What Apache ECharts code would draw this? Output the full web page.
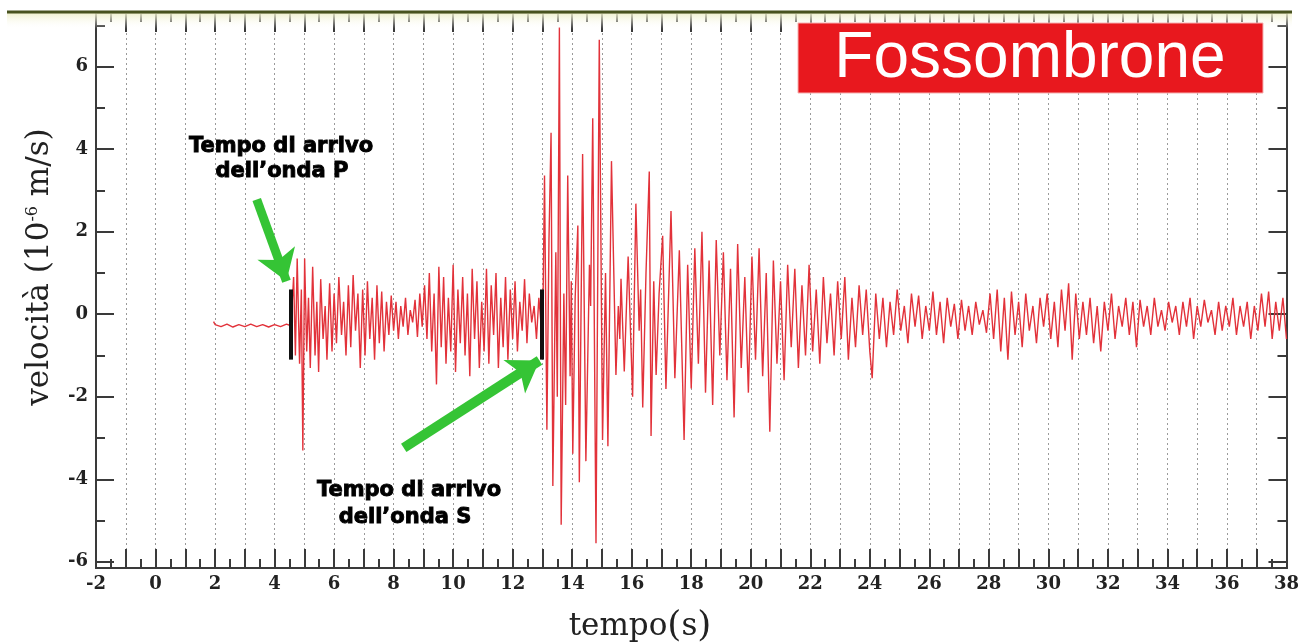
<!DOCTYPE html>
<html><head><meta charset="utf-8">
<script src="https://cdn.jsdelivr.net/npm/echarts@6/dist/echarts.min.js"></script>
<style>html,body{margin:0;padding:0;background:#fff}#c{width:1302px;height:644px}</style>
</head><body><div id="c"></div>
<script>
// ---- axis ticks / labels ----
const yTickLabels = [-6, -4, -2, 0, 2, 4, 6];
const yMinorTicks = [-5, -3, -1, 1, 3, 5, 7];
const xMin = -2, xMax = 38, yMin = -6.15, yMax = 7.3;

// ---- seismogram (time s, velocity 1e-6 m/s) ----
const preEvent = [[1.95,-0.18],[2.0,-0.25],[2.2,-0.3],[2.4,-0.24],[2.6,-0.31],[2.8,-0.25],[3.0,-0.3],[3.2,-0.24],[3.4,-0.3],[3.6,-0.25],[3.8,-0.31],[4.0,-0.25],[4.2,-0.3],[4.4,-0.24],[4.55,-0.28]];
const pWave = [[4.58,-0.3],[4.64,0.9],[4.70,-1.0],[4.76,1.35],[4.84,-1.2],[4.90,0.6],[4.95,-3.3],[5.01,1.35],[5.08,-0.9],[5.14,0.4],[5.20,-1.3],[5.28,1.15],[5.36,-1.0],[5.42,0.3],[5.48,-1.4],[5.55,0.85],[5.63,-0.6],[5.70,0.2],[5.76,-1.1],[5.85,0.75],[5.93,-0.9],[6.0,0.5],
[6.08,-0.7],[6.16,0.9],[6.25,-0.5],[6.32,0.3],[6.40,-1.0],[6.48,0.7],[6.56,-0.8],[6.64,0.95],[6.72,-0.4],[6.80,0.5],[6.88,-1.3],[6.96,0.6],[7.04,-1.0],[7.12,0.8],[7.20,-0.6],[7.28,0.4],[7.36,-1.1],[7.44,0.7],[7.52,-0.7],[7.60,0.55],[7.68,-0.9],[7.76,0.3],[7.84,-0.5],[7.92,0.45],
[8.00,-0.4],[8.08,0.3],[8.16,-0.6],[8.24,0.2],[8.32,-0.3],[8.40,0.4],[8.48,-0.5],[8.56,0.1],[8.64,-0.2],[8.72,0.35],[8.80,-0.55],[8.88,0.5],[8.96,-0.3],
[9.04,0.7],[9.12,-0.6],[9.20,1.0],[9.28,-0.9],[9.36,0.5],[9.44,-1.7],[9.52,1.15],[9.60,-0.8],[9.68,0.9],[9.76,-1.2],[9.84,0.4],[9.92,-0.9],[10.00,1.2],[10.08,-1.4],[10.16,0.6],[10.24,-0.7],[10.32,0.9],[10.40,-1.0],[10.48,0.5],[10.56,-1.5],[10.64,1.1],[10.72,-0.6],[10.80,0.8],[10.88,-1.3],[10.96,0.3],[11.04,-0.9],[11.12,1.1],[11.20,-1.2],[11.28,0.7],[11.36,-0.5],[11.44,1.0],[11.52,-1.3],[11.60,0.4],[11.68,-0.8],[11.76,0.9],[11.84,-1.1],[11.92,0.6],[12.00,-0.6],[12.08,0.8],[12.16,-0.9],[12.24,0.3],[12.32,-0.4],[12.40,0.85],[12.48,-0.7],[12.56,0.5],[12.64,-0.2],[12.72,0.2],[12.80,-0.6],[12.88,0.4],[12.96,-0.3]];
const sWave = [[13.00,-1.0],[13.07,3.36],[13.15,-2.8],[13.22,1.8],[13.29,4.4],[13.35,-4.16],[13.45,1.5],[13.50,-2.0],[13.57,6.95],[13.63,-5.1],[13.72,0.5],[13.78,-2.2],[13.85,3.36],[13.93,-1.5],[13.97,0.8],[14.02,-3.38],[14.10,0.4],[14.19,2.15],[14.24,-4.07],[14.35,3.88],[14.46,-3.56],[14.58,1.2],[14.62,0.2],[14.69,4.75],[14.80,-5.55],[14.91,6.65],[15.02,-3.05],[15.12,1.0],[15.20,-3.2],[15.32,3.71],[15.47,-1.47],[15.55,0.2],[15.60,-0.6],[15.64,0.86],[15.75,-1.39],[15.88,1.4],[16.03,-2.0],[16.14,2.68],[16.25,-0.4],[16.30,0.6],[16.37,-2.26],[16.48,1.0],[16.59,3.46],[16.65,-2.95],[16.74,0.8],[16.82,-1.47],[16.92,0.5],[17.04,1.9],[17.15,-1.81],[17.32,2.5],[17.45,-1.55],[17.60,1.55],[17.76,-3.05]];
const coda = [[17.88,1.2],[18.00,-1.8],[18.12,1.6],[18.24,-1.2],[18.36,2.0],[18.48,-1.9],[18.60,1.3],[18.72,-2.2],[18.84,1.8],[18.96,-1.0],[19.08,1.5],[19.20,-1.6],[19.32,1.1],[19.44,-2.5],[19.56,1.7],[19.68,-1.3],[19.80,0.9],[19.92,-1.9],[20.04,1.4],[20.16,-1.1],[20.28,1.6],[20.40,-1.5],[20.52,1.0],[20.64,-2.85],[20.76,1.3],[20.88,-1.2],[21.00,0.8],[21.12,-1.6],[21.24,1.2],[21.36,-0.8],[21.48,1.1],[21.60,-1.3],[21.72,0.7],[21.84,-1.0],[21.96,1.2],[22.08,-0.9],[22.20,0.6],[22.32,-1.2],[22.44,0.9],[22.56,-0.7],[22.68,0.5],[22.80,-1.0],[22.92,0.8],[23.04,-0.6],[23.16,0.9],[23.28,-1.1],[23.40,0.4],[23.52,-0.8],[23.64,0.7],[23.76,-0.5],[23.88,0.6],[24.00,-0.9],[24.08,-1.55],
[24.20,0.5],[24.32,-0.6],[24.44,0.4],[24.56,-0.8],[24.68,0.3],[24.80,-0.5],[24.92,0.6],[25.04,-0.4],[25.16,0.2],[25.28,-0.7],[25.40,0.5],[25.52,-0.3],[25.64,0.45],[25.76,-0.6],[25.88,0.2],[26.00,-0.4],[26.12,0.55],[26.24,-0.5],[26.36,0.3],[26.48,-0.7],[26.60,0.4],[26.72,-0.3],[26.84,0.25],[26.96,-0.6],[27.08,0.35],[27.20,-0.4],[27.32,0.2],[27.44,-0.5],[27.56,0.3],[27.68,-0.25],[27.80,0.1],[27.92,-0.45],
[28.04,0.5],[28.16,-0.6],[28.28,0.6],[28.40,-0.9],[28.52,0.4],[28.64,-1.1],[28.76,0.55],[28.88,-0.5],[29.00,0.3],[29.12,-0.8],[29.24,0.5],[29.36,-0.4],[29.48,0.2],[29.60,-0.7],[29.72,0.4],[29.84,-0.3],[29.96,0.5],[30.08,-0.6],[30.20,0.3],[30.32,-0.8],[30.44,0.6],[30.56,-0.4],[30.68,0.75],[30.80,-1.1],[30.92,0.5],[31.04,-0.6],[31.16,0.3],[31.28,-0.5],[31.40,0.4],[31.52,-0.7],[31.64,0.2],[31.76,-0.9],[31.88,0.3],[32.00,-0.4],[32.12,0.5],[32.24,-0.6],[32.36,0.2],[32.48,-0.3],[32.60,0.4],[32.72,-0.5],[32.84,0.3],[32.96,-0.8],[33.08,0.35],[33.20,-0.3],[33.32,0.2],[33.44,-0.5],[33.56,0.4],[33.68,-0.3],[33.80,0.1],[33.92,-0.4],[34.04,0.3],[34.16,-0.2],[34.28,0.2],[34.40,-0.5],[34.52,0.3],[34.64,-0.3],[34.76,0.4],[34.88,-0.6],[35.00,0.2],[35.12,-0.3],[35.24,0.35],[35.36,-0.2],[35.48,0.1],[35.60,-0.5],[35.72,0.3],[35.84,-0.4],[35.96,0.2],[36.08,-0.3],[36.20,0.4],[36.32,-0.5],[36.44,0.2],[36.56,-0.3],[36.68,0.3],[36.80,-0.6],[36.92,0.2],[37.04,-0.4],[37.16,0.5],[37.28,-0.3],[37.40,0.55],[37.52,-0.6],[37.64,0.3],[37.76,-0.4],[37.88,0.4],[38.00,-0.6]];

// ---- annotations (data coordinates) ----
const pArrival = 4.55, sArrival = 12.97;
const markerSpan = [0.6, -1.1];
const pArrow = [[3.40, 2.78], [4.40, 0.80]];
const sArrow = [[8.34, -3.24], [12.90, -1.12]];

const AX = '#3a3a3a';
const serif = 'DejaVu Serif';
function xAxisDef(pos, labels) {
  return {
    type: 'value', position: pos, min: xMin, max: xMax, interval: 1,
    axisLine: {show: true, onZero: false, lineStyle: {color: AX, width: 2}},
    axisTick: {show: true, inside: true, length: 19, lineStyle: {color: AX, width: 2}},
    minorTick: {show: true, splitNumber: 2, length: 9, lineStyle: {color: AX, width: 2}},
    splitLine: {show: labels, lineStyle: {color: '#9a9a9a', width: 1, type: [2, 3]}},
    axisLabel: labels ? {show: true, margin: 7, color: '#222', fontFamily: serif, fontSize: 18, fontWeight: 'bold',
      formatter: v => (Math.round(v) % 2 === 0 ? String(v) : '')} : {show: false}
  };
}
function yAxisDef(pos, ticks, len, labels) {
  return {
    type: 'value', position: pos, min: yMin, max: yMax,
    axisLine: {show: true, onZero: false, lineStyle: {color: AX, width: 2}},
    axisTick: {show: true, inside: true, length: len, customValues: ticks, lineStyle: {color: AX, width: 2}},
    splitLine: {show: false},
    axisLabel: labels ? {show: true, customValues: ticks, margin: 8, color: '#222', fontFamily: serif, fontSize: 18, fontWeight: 'bold'} : {show: false}
  };
}
const annot = {fill: '#000', font: 'bold 21px "DejaVu Sans"', align: 'center', verticalAlign: 'middle', stroke: '#000', lineWidth: 0.9};

const chart = echarts.init(document.getElementById('c'), null, {renderer: 'canvas'});
chart.setOption({
  animation: false,
  backgroundColor: '#fff',
  grid: {left: 96, right: 13, top: 13, bottom: 76, containLabel: false},
  xAxis: [xAxisDef('bottom', true), xAxisDef('top', false)],
  yAxis: [yAxisDef('left', yTickLabels, 18, true), yAxisDef('left', yMinorTicks, 9, false),
          yAxisDef('right', yTickLabels, 18, false), yAxisDef('right', yMinorTicks, 9, false)],
  series: [
    {type: 'line', xAxisIndex: 0, yAxisIndex: 0, showSymbol: false, symbol: 'none', sampling: 'none',
     data: [...preEvent, ...pWave, ...sWave, ...coda],
     lineStyle: {color: '#e2323a', width: 1.4}, z: 3},
    {type: 'line', xAxisIndex: 0, yAxisIndex: 0, data: [], z: 5,
     markLine: {silent: true, symbol: ['none', 'none'], label: {show: false},
       lineStyle: {color: '#111', width: 4, type: 'solid'},
       data: [[{coord: [pArrival, markerSpan[0]]}, {coord: [pArrival, markerSpan[1]]}],
              [{coord: [sArrival, markerSpan[0]]}, {coord: [sArrival, markerSpan[1]]}]]}},
    {type: 'line', xAxisIndex: 0, yAxisIndex: 0, data: [], z: 6,
     markLine: {silent: true, symbol: ['none', 'arrow'], symbolSize: [30, 30], label: {show: false},
       lineStyle: {color: '#35c435', width: 9, type: 'solid', opacity: 1},
       data: [[{coord: pArrow[0]}, {coord: pArrow[1]}],
              [{coord: sArrow[0]}, {coord: sArrow[1], lineStyle: {width: 10}}]]}}
  ],
  graphic: [
    {type: 'rect', z: 90, shape: {x: 7, y: 13, width: 1285, height: 16},
     style: {fill: new echarts.graphic.LinearGradient(0, 0, 0, 1, [{offset: 0, color: 'rgba(238,238,200,0.9)'}, {offset: 1, color: 'rgba(255,255,255,0)'}])}},
    {type: 'rect', z: 91, shape: {x: 7, y: 10.5, width: 1285, height: 3}, style: {fill: '#48521f'}},
    {type: 'rect', z: 95, shape: {x: 798, y: 23, width: 465, height: 70}, style: {fill: '#e8181e', stroke: '#f6b0b0', lineWidth: 1}},
    {type: 'text', z: 96, x: 1030, y: 59, style: {text: 'Fossombrone', fill: '#fff', font: '64px "Liberation Sans"', align: 'center', verticalAlign: 'middle'}},
    {type: 'text', z: 96, x: 281, y: 147, style: Object.assign({text: 'Tempo di arrivo'}, annot)},
    {type: 'text', z: 96, x: 282, y: 172, style: Object.assign({text: 'dell\u2019onda P'}, annot)},
    {type: 'text', z: 96, x: 409, y: 491, style: Object.assign({text: 'Tempo di arrivo'}, annot)},
    {type: 'text', z: 96, x: 405, y: 518, style: Object.assign({text: 'dell\u2019onda S'}, annot)},
    {type: 'text', z: 96, x: 40, y: 267, rotation: Math.PI / 2,
     style: {text: '{a|velocità (10}{s|-6}{a| m/s)}', align: 'center', verticalAlign: 'middle',
       rich: {a: {fontFamily: serif, fontSize: 31, fill: '#222', color: '#222'},
              s: {fontFamily: serif, fontSize: 16, fill: '#222', color: '#222', verticalAlign: 'top', padding: [0, 0, 14, 0]}}}},
    {type: 'text', z: 96, x: 640, y: 627,
     style: {text: '{a|tempo}{p|(}{a|s}{p|)}', align: 'center', verticalAlign: 'middle',
       rich: {a: {fontFamily: serif, fontSize: 31, fill: '#222', color: '#222'},
              p: {fontFamily: serif, fontSize: 36, fill: '#222', color: '#222'}}}}
  ]
});
</script></body></html>
